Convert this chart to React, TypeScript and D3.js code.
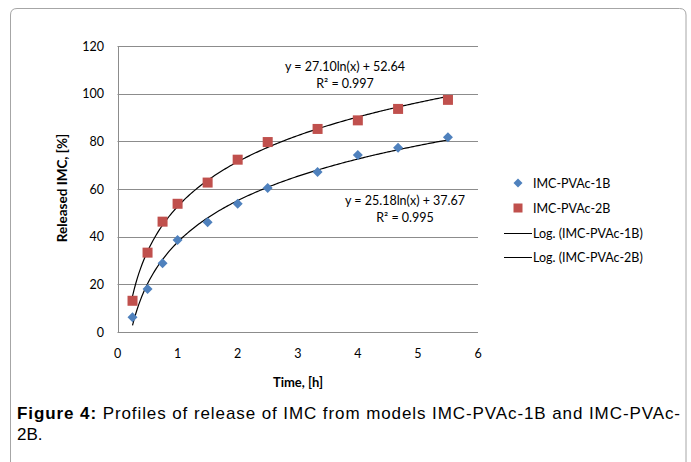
import React, { useEffect, useRef } from "react";
import * as d3 from "d3";

const times = [0.25, 0.5, 0.75, 1, 1.5, 2, 2.5, 3.33, 4, 4.67, 5.5];
const release1B = [6.2, 18.0, 28.8, 38.6, 46.0, 53.8, 60.4, 67.1, 74.3, 77.3, 81.7];
const release2B = [13.1, 33.3, 46.3, 53.8, 62.7, 72.3, 79.7, 85.2, 88.8, 93.6, 97.4];
const fit1B = { a: 25.18, b: 37.67 };
const fit2B = { a: 27.1, b: 52.64 };
const xTicks = [0, 1, 2, 3, 4, 5, 6];
const yTicks = [0, 20, 40, 60, 80, 100, 120];
const legendLabels = ["IMC-PVAc-1B", "IMC-PVAc-2B", "Log. (IMC-PVAc-1B)", "Log. (IMC-PVAc-2B)"];
const eq2B = ["y = 27.10ln(x) + 52.64", "R² = 0.997"];
const eq1B = ["y = 25.18ln(x) + 37.67", "R² = 0.995"];
const xTitle = "Time, [h]";
const yTitle = "Released IMC, [%]";
const captionBold = "Figure 4:";
const captionRest = " Profiles of release of IMC from models IMC-PVAc-1B and IMC-PVAc-";
const captionLine2 = "2B.";

const BLUE = "#4F81BD";
const RED = "#C0504D";
const GRID = "#8c8c8c";
const FONT = "Lato, 'Open Sans', sans-serif";
const CAPFONT = "'Liberation Sans', Arial, sans-serif";

export default function App() {
  const ref = useRef<SVGSVGElement | null>(null);
  useEffect(() => {
    const svg = d3.select(ref.current);
    svg.selectAll("*").remove();
    const x = d3.scaleLinear().domain([0, 6]).range([117.5, 478]);
    const y = d3.scaleLinear().domain([0, 120]).range([332, 46]);

    // outer frame
    svg.append("path")
      .attr("d", "M10.5,470 V15 Q10.5,8.5 17,8.5 H679.5 Q686,8.5 686,15 V470")
      .attr("fill", "none").attr("stroke", "#a6a6a6").attr("stroke-width", 1);

    // gridlines
    svg.append("g").selectAll("line").data(yTicks.filter(t => t > 0)).join("line")
      .attr("x1", x(0)).attr("x2", x(6))
      .attr("y1", d => Math.round(y(d)) + 0.5).attr("y2", d => Math.round(y(d)) + 0.5)
      .attr("stroke", GRID).attr("stroke-width", 1);
    // axes
    svg.append("line").attr("x1", x(0)).attr("x2", x(6))
      .attr("y1", Math.round(y(0)) + 0.5).attr("y2", Math.round(y(0)) + 0.5)
      .attr("stroke", GRID);
    svg.append("line").attr("x1", Math.round(x(0)) + 0.5).attr("x2", Math.round(x(0)) + 0.5)
      .attr("y1", y(120)).attr("y2", y(0)).attr("stroke", GRID);

    // tick labels
    svg.append("g").selectAll("text").data(yTicks).join("text")
      .attr("x", 104).attr("y", d => y(d) + 4.5).attr("text-anchor", "end")
      .attr("font-family", FONT).attr("font-size", 12.5).attr("fill", "#000").text(d => String(d));
    svg.append("g").selectAll("text").data(xTicks).join("text")
      .attr("x", d => x(d)).attr("y", 358).attr("text-anchor", "middle")
      .attr("font-family", FONT).attr("font-size", 12.5).attr("fill", "#000").text(d => String(d));

    // axis titles
    svg.append("text").attr("x", 298).attr("y", 387).attr("text-anchor", "middle")
      .attr("font-family", FONT).attr("font-weight", "bold").attr("font-size", 13).text(xTitle);
    svg.append("text").attr("transform", "translate(67,188) rotate(-90)").attr("text-anchor", "middle")
      .attr("font-family", FONT).attr("font-weight", "bold").attr("font-size", 13.5).text(yTitle);

    // trend lines
    const xs = d3.range(0, 201).map(i => 0.25 + (5.5 - 0.25) * i / 200);
    const line = d3.line<number>().x(d => x(d)).curve(d3.curveLinear);
    [fit1B, fit2B].forEach(f => {
      svg.append("path")
        .attr("d", line.y(d => y(f.a * Math.log(d) + f.b))(xs) as string)
        .attr("fill", "none").attr("stroke", "#000").attr("stroke-width", 1.2);
    });

    // markers
    const diamond = (cx: number, cy: number, r: number) =>
      `M${cx},${cy - r} L${cx + r},${cy} L${cx},${cy + r} L${cx - r},${cy} Z`;
    svg.append("g").selectAll("path").data(times).join("path")
      .attr("d", (d, i) => diamond(x(d), y(release1B[i]), 5))
      .attr("fill", BLUE);
    svg.append("g").selectAll("rect").data(times).join("rect")
      .attr("x", d => x(d) - 5).attr("y", (d, i) => y(release2B[i]) - 5)
      .attr("width", 10).attr("height", 10).attr("fill", RED);

    // equations
    const eq = (lines: string[], cx: number, cy: number) => {
      lines.forEach((t, i) => {
        svg.append("text").attr("x", cx).attr("y", cy + i * 16.5).attr("text-anchor", "middle")
          .attr("font-family", FONT).attr("font-size", 12.5).text(t);
      });
    };
    eq(eq2B, 345, 71);
    eq(eq1B, 405, 205);

    // legend
    const lg = svg.append("g");
    lg.append("path").attr("d", diamond(518, 183, 4.5)).attr("fill", BLUE);
    lg.append("rect").attr("x", 513.5).attr("y", 203.5).attr("width", 9).attr("height", 9).attr("fill", RED);
    [233, 257].forEach(ly => {
      lg.append("line").attr("x1", 504).attr("x2", 532).attr("y1", ly + 0.5).attr("y2", ly + 0.5)
        .attr("stroke", "#000").attr("stroke-width", 1);
    });
    const ly = [183, 208, 233, 257];
    legendLabels.forEach((t, i) => {
      lg.append("text").attr("x", 533).attr("y", ly[i] + 4.5)
        .attr("font-family", FONT).attr("font-size", 12.5).text(t);
    });

    // caption
    const cap = svg.append("text").attr("x", 17).attr("y", 419)
      .attr("font-family", CAPFONT).attr("font-size", 17)
      .attr("textLength", 663).attr("lengthAdjust", "spacing");
    cap.append("tspan").attr("font-weight", "bold").text(captionBold);
    cap.append("tspan").text(captionRest);
    svg.append("text").attr("x", 17).attr("y", 440)
      .attr("font-family", CAPFONT).attr("font-size", 17)
      .text(captionLine2);
  }, []);
  return (
    <svg ref={ref} width={691} height={462}
      style={{ position: "absolute", left: 0, top: 0, background: "#fff" }} />
  );
}
